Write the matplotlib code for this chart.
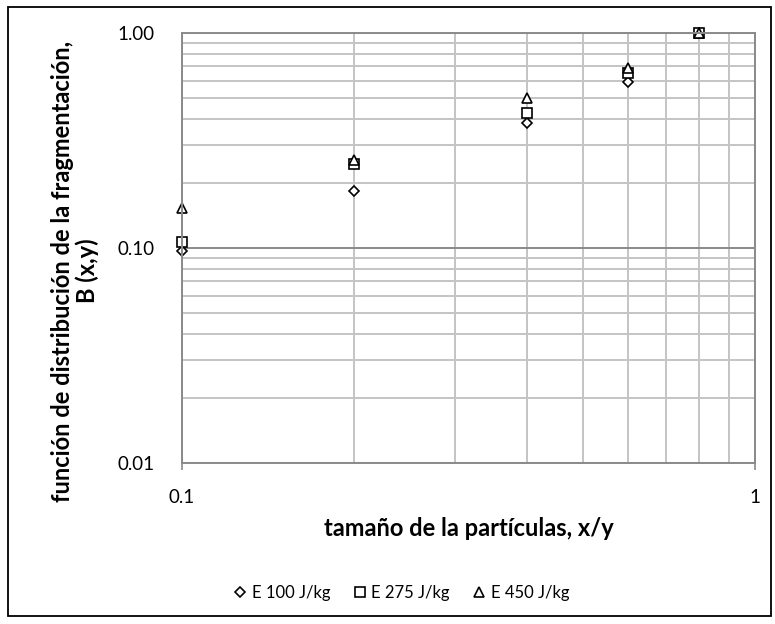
import matplotlib
matplotlib.use("Agg")
import matplotlib.pyplot as plt
from matplotlib.ticker import FixedLocator, NullFormatter, FixedFormatter
from matplotlib.patches import Rectangle

# ---- data ----
x_vals = [0.1, 0.2, 0.4, 0.6, 0.8]
series_names = ["E 100 J/kg", "E 275 J/kg", "E 450 J/kg"]
b_100 = [0.097, 0.185, 0.383, 0.589, 1.0]
b_275 = [0.107, 0.246, 0.426, 0.655, 1.0]
b_450 = [0.154, 0.258, 0.497, 0.687, 1.0]
x_ticks = [0.1, 1.0]
x_ticklabels = ["0.1", "1"]
y_ticks = [0.01, 0.1, 1.0]
y_ticklabels = ["0.01", "0.10", "1.00"]
x_title = "tamaño de la partículas, x/y"
y_title = "función de distribución de la fragmentación,\nB (x,y)"

plt.rcParams['font.family'] = ['Lato', 'DejaVu Sans']

W, H = 775, 624
fig = plt.figure(figsize=(W / 100, H / 100), dpi=100)
ax = fig.add_axes([182 / W, 1 - 463 / H, (755 - 182) / W, (463 - 33) / H])

ax.set_xscale('log')
ax.set_yscale('log')
ax.set_xlim(0.1, 1.0)
ax.set_ylim(0.01, 1.0)

minor_col = '#c4c4c4'
major_col = '#8a8a8a'
ax.xaxis.set_major_locator(FixedLocator(x_ticks))
ax.xaxis.set_major_formatter(FixedFormatter(x_ticklabels))
ax.yaxis.set_major_locator(FixedLocator(y_ticks))
ax.yaxis.set_major_formatter(FixedFormatter(y_ticklabels))
ax.xaxis.set_minor_locator(FixedLocator([k / 10 for k in range(2, 10)]))
ax.yaxis.set_minor_locator(FixedLocator([k / 100 for k in range(2, 10)] + [k / 10 for k in range(2, 10)]))
ax.xaxis.set_minor_formatter(NullFormatter())
ax.yaxis.set_minor_formatter(NullFormatter())

ax.grid(True, which='minor', color=minor_col, linewidth=1.4)
ax.grid(True, which='major', color=major_col, linewidth=1.4)
ax.set_axisbelow(True)

ax.tick_params(axis='x', which='major', direction='out', length=5, width=1.2, color=major_col,
               pad=14, labelsize=13.5, labelcolor='black')
ax.tick_params(axis='y', which='major', length=0, pad=20, labelsize=13.5, labelcolor='black')
ax.tick_params(which='minor', length=0)

for s in ax.spines.values():
    s.set_color(major_col)
    s.set_linewidth(1.4)

mk = dict(linestyle='none', markerfacecolor='white', markeredgecolor='black',
          markeredgewidth=1.2, clip_on=False)
ax.plot(x_vals, b_100, marker='D', markersize=5.4, label=series_names[0], **mk)
ax.plot(x_vals, b_275, marker='s', markersize=6.8, label=series_names[1], **mk)
ax.plot(x_vals, b_450, marker='^', markersize=7.2, label=series_names[2], **mk)

fig.text(469 / W, 1 - 528 / H, x_title, ha='center', va='center',
         fontsize=17, fontweight='bold')
fig.text(75 / W, 1 - 271 / H, y_title, ha='center', va='center', rotation=90,
         fontsize=17, fontweight='bold', linespacing=1.12, multialignment='center')

leg = fig.legend(loc='center', bbox_to_anchor=(402 / W, 1 - 593 / H), ncol=3,
                 frameon=False, fontsize=12, handlelength=0.7, handletextpad=0.35,
                 columnspacing=1.4, borderaxespad=0)

fig.add_artist(Rectangle((8 / W, 1 - 616 / H), (771 - 8) / W, (616 - 7) / H,
                         transform=fig.transFigure, fill=False, edgecolor='black',
                         linewidth=1.3))

fig.savefig('out.png', dpi=100)
